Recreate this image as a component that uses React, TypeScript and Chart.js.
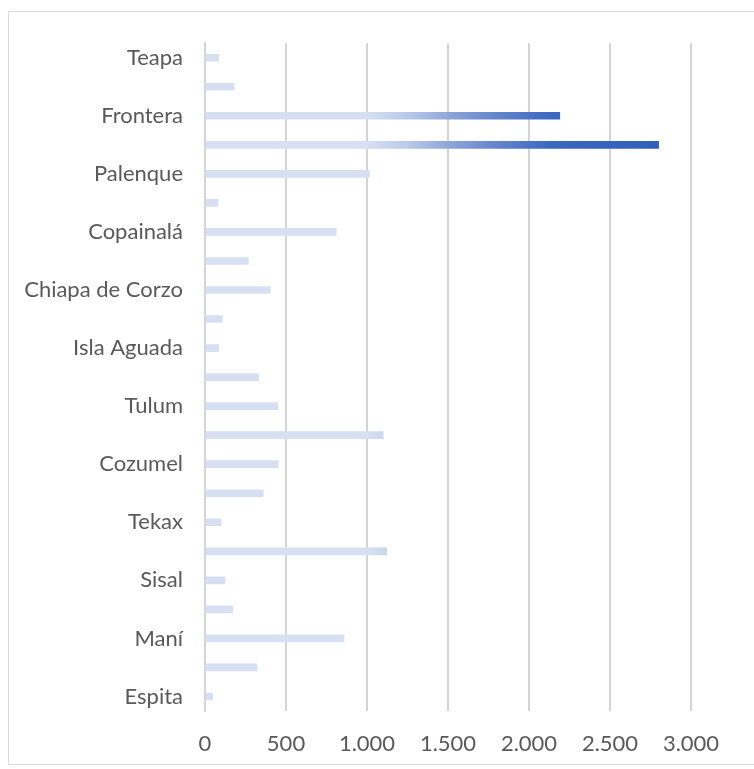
import React, { useEffect, useRef } from "react";
import { Chart, registerables } from "chart.js";

Chart.register(...registerables);

// Categories from top to bottom (labels not shown in the reference are left blank)
const categories: string[] = [
  "Teapa", "", "Frontera", "", "Palenque", "", "Copainalá", "", "Chiapa de Corzo", "",
  "Isla Aguada", "", "Tulum", "", "Cozumel", "", "Tekax", "", "Sisal", "", "Maní", "", "Espita",
];

const values: number[] = [
  85, 180, 2190, 2800, 1015, 80, 810, 267, 403, 107,
  84, 331, 449, 1100, 453, 360, 99, 1121, 123, 171, 858, 321, 47,
];

const xTicks: number[] = [0, 500, 1000, 1500, 2000, 2500, 3000];

const LIGHT = "#d6e0f2";
const DARK = "#2f5db8";
const TEXT = "#595959";
const GRID = "#d4d4d4";
const FONT = "Lato";

function formatThousands(v: number): string {
  return String(v).replace(/\B(?=(\d{3})+(?!\d))/g, ".");
}

export default function App() {
  const ref = useRef<HTMLCanvasElement | null>(null);

  useEffect(() => {
    if (!ref.current) return;
    let cache: CanvasGradient | null = null;
    const chart = new Chart(ref.current, {
      type: "bar",
      data: {
        labels: categories,
        datasets: [
          {
            data: values,
            barThickness: 7,
            borderWidth: 0,
            backgroundColor: (ctx: any) => {
              const c = ctx.chart;
              const xs = c.scales && c.scales.x;
              if (!c.chartArea || !xs) return LIGHT;
              if (cache) return cache;
              const x0 = xs.getPixelForValue(0);
              const x1 = xs.getPixelForValue(3000);
              const g = c.ctx.createLinearGradient(x0, 0, x1, 0);
              g.addColorStop(0, LIGHT);
              g.addColorStop(1000 / 3000, LIGHT);
              g.addColorStop(1250 / 3000, "#b9c9e9");
              g.addColorStop(1500 / 3000, "#8ea7da");
              g.addColorStop(1800 / 3000, "#6485cc");
              g.addColorStop(2150 / 3000, "#3a67c0");
              g.addColorStop(1, DARK);
              cache = g;
              return g;
            },
          },
        ],
      },
      options: {
        indexAxis: "y",
        animation: false,
        responsive: false,
        maintainAspectRatio: false,
        layout: { padding: { left: 0, right: 63, top: 33, bottom: 0 } },
        plugins: { legend: { display: false }, tooltip: { enabled: false } },
        scales: {
          x: {
            min: 0,
            max: 3000,
            afterBuildTicks: (scale: any) => {
              scale.ticks = xTicks.map((v) => ({ value: v }));
            },
            afterFit: (scale: any) => {
              scale.height = 58;
            },
            grid: { color: GRID, lineWidth: 2, drawTicks: false },
            border: { display: false },
            ticks: {
              padding: 20,
              color: TEXT,
              font: { family: FONT, size: 22 },
              callback: (v: any) => formatThousands(Number(v)),
            },
          },
          y: {
            afterFit: (scale: any) => {
              scale.width = 197;
            },
            grid: { display: false, drawTicks: false },
            border: { display: true, color: GRID, width: 2 },
            ticks: {
              autoSkip: false,
              padding: 22,
              color: TEXT,
              font: { family: FONT, size: 22 },
            },
          },
        },
      },
    });
    return () => chart.destroy();
  }, []);

  return (
    <div
      style={{
        position: "fixed",
        left: 0,
        top: 0,
        width: 754,
        height: 769,
        overflow: "hidden",
        background: "#ffffff",
      }}
    >
      <div
        style={{
          position: "absolute",
          left: 8,
          top: 11,
          width: 800,
          height: 754,
          border: "1px solid #d9d9d9",
          boxSizing: "border-box",
        }}
      />
      <canvas
        ref={ref}
        width={746}
        height={761}
        style={{ position: "absolute", left: 8, top: 8, width: 746, height: 761 }}
      />
    </div>
  );
}
